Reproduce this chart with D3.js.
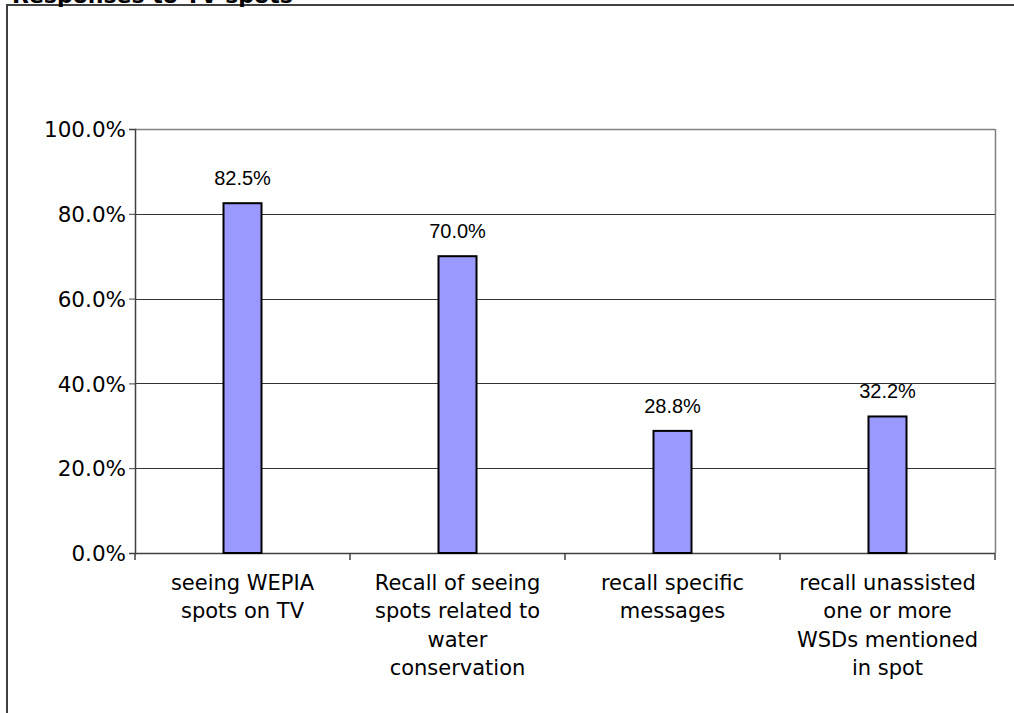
<!DOCTYPE html>
<html>
<head>
<meta charset="utf-8">
<script src="https://cdn.jsdelivr.net/npm/d3@7"></script>
<style>
  html, body { margin: 0; padding: 0; background: #fff; overflow: hidden; }
  svg { display: block; }
</style>
</head>
<body>
<svg id="chart" width="1014" height="713"></svg>
<script>
const titleText = "Responses to TV spots";
const categories = [
  ["seeing WEPIA", "spots on TV"],
  ["Recall of seeing", "spots related to", "water", "conservation"],
  ["recall specific", "messages"],
  ["recall unassisted", "one or more", "WSDs mentioned", "in spot"]
];
const values = [82.5, 70.0, 28.8, 32.2];
const valueLabels = ["82.5%", "70.0%", "28.8%", "32.2%"];
const yTicks = [0, 20, 40, 60, 80, 100];

(function () {
const svg = d3.select("#chart");
const pLeft = 135, pRight = 995, pTop = 129, pBottom = 553;

// outer border
svg.append("rect").attr("x", 7).attr("y", 5).attr("width", 1020).attr("height", 720)
  .attr("fill", "none").attr("stroke", "#404040").attr("stroke-width", 2);

// title (clipped at the top edge, as in the reference)
svg.append("text").attr("x", 12).attr("y", 3)
  .attr("font-family", "DejaVu Sans, Verdana, sans-serif").attr("font-weight", "bold")
  .attr("font-size", 22).attr("fill", "#000").text(titleText);

const x = d3.scaleBand().domain(d3.range(categories.length)).range([pLeft, pRight]).paddingInner(0).paddingOuter(0);
const y = d3.scaleLinear().domain([0, 100]).range([pBottom, pTop]);

// plot area border (top & right)
svg.append("line").attr("x1", pLeft).attr("x2", pRight).attr("y1", pTop + 0.5).attr("y2", pTop + 0.5)
  .attr("stroke", "#808080").attr("stroke-width", 1.5);
svg.append("line").attr("x1", pRight + 0.5).attr("x2", pRight + 0.5).attr("y1", pTop).attr("y2", pBottom)
  .attr("stroke", "#808080").attr("stroke-width", 1.5);

// gridlines
svg.append("g").selectAll("line").data(yTicks.filter(t => t > 0 && t < 100)).join("line")
  .attr("x1", pLeft).attr("x2", pRight)
  .attr("y1", d => Math.round(y(d)) + 0.5).attr("y2", d => Math.round(y(d)) + 0.5)
  .attr("stroke", "#333").attr("stroke-width", 1);

// y axis
const yAxis = d3.axisLeft(y).tickValues(yTicks).tickFormat(d => d.toFixed(1) + "%").tickSize(6).tickPadding(3);
const gy = svg.append("g").attr("transform", `translate(${pLeft},0)`).call(yAxis);
gy.select(".domain").attr("stroke", "#404040").attr("stroke-width", 1.5);
gy.selectAll(".tick line").attr("stroke", "#404040");
gy.selectAll(".tick text").attr("font-family", "DejaVu Sans, Verdana, sans-serif")
  .attr("font-size", 21.5).attr("fill", "#000").attr("dy", "0.36em");

// x axis line and separators
svg.append("line").attr("x1", pLeft).attr("x2", pRight).attr("y1", pBottom + 0.5).attr("y2", pBottom + 0.5)
  .attr("stroke", "#404040").attr("stroke-width", 1.5);
const seps = d3.range(categories.length + 1).map(i => i < categories.length ? x(i) : pRight);
svg.append("g").selectAll("line").data(seps).join("line")
  .attr("x1", d => d).attr("x2", d => d).attr("y1", pBottom).attr("y2", pBottom + 7)
  .attr("stroke", "#404040").attr("stroke-width", 1.5);

// bars
const bw = 38;
svg.append("g").selectAll("rect").data(values).join("rect")
  .attr("x", (d, i) => x(i) + x.bandwidth() / 2 - bw / 2)
  .attr("y", d => y(d))
  .attr("width", bw)
  .attr("height", d => pBottom - y(d))
  .attr("fill", "#9999ff").attr("stroke", "#000").attr("stroke-width", 2);

// value labels
svg.append("g").selectAll("text").data(values).join("text")
  .attr("x", (d, i) => x(i) + x.bandwidth() / 2)
  .attr("y", d => y(d) - 18)
  .attr("text-anchor", "middle")
  .attr("font-family", "Liberation Sans, Arial, sans-serif").attr("font-size", 20).attr("fill", "#000")
  .text((d, i) => valueLabels[i]);

// category labels
const cg = svg.append("g");
categories.forEach((lines, i) => {
  const t = cg.append("text").attr("text-anchor", "middle")
    .attr("font-family", "DejaVu Sans, Verdana, sans-serif").attr("font-size", 21).attr("fill", "#000");
  lines.forEach((ln, j) => {
    t.append("tspan").attr("x", x(i) + x.bandwidth() / 2).attr("y", 590 + j * 28.3).text(ln);
  });
});
})();
</script>
</body>
</html>
